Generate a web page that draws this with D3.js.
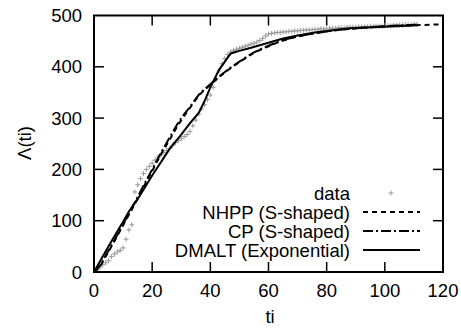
<!DOCTYPE html>
<html><head><meta charset="utf-8">
<script src="https://cdn.jsdelivr.net/npm/d3@7"></script>
<style>body{margin:0;background:#fff}svg{display:block}text{font-family:"Liberation Sans",Arial,Helvetica,sans-serif;font-size:18.5px;fill:#000}</style>
</head><body>
<script>
const xTicks = [0,20,40,60,80,100,120];
const yTicks = [0,100,200,300,400,500];
// observed data, t = 1..111
const dataValues = [4,9,14,18,22,30,35,39,42,47,64,82,92,156,170,182,192,200,206,212,218,224,228,233,237,241,247,252,256,260,264,268,274,285,296,308,318,326,336,345,360,376,392,406,416,424,429,432,434,436,438,440,442,444,446,448,451,455,460,464,465,466,467,467,468,468,469,469,470,470,471,471,472,472,472,473,473,474,474,474,475,475,475,476,476,476,477,477,477,477,478,478,478,478,479,479,479,479,479,480,480,480,481,481,481,481,482,482,482,483,483];
const nhppT = [0,2,4,7,10,13.5,17,20,23,26,30,33,36,40,45,50,55,60,65,70,80,90,100,111,120];
const nhppV = [0,11,30,60,91,127,165,197,229,258,296,320,343,365,389,409,427,440,451,459,469,475,479,481,483];
const cpT = [0,2,4,7,10,13.5,17,20,23,26,30,33,36,40,45,50,55,60,65,70,80,90,100,111];
const cpV = [0,12,32,62,93,130,168,200,232,262,300,322,345,366,390,410,428,441,452,459,469,475,479,482];
const dmaltT = [0,3,6,10,12,15,20,26,30,33,36,38,40,43,47,50,54,60,65,70,77,88,100,111];
const dmaltV = [0,30,60,98,118,142,188,240,268,290,310,333,360,394,426,431,437,447,455,461,468,475,478,481];
const legendLabels = ["data","NHPP (S-shaped)","CP (S-shaped)","DMALT (Exponential)"];

const W=461,H=329, L=94, R=443, T=15.5, B=272;
const svg=d3.select("body").append("svg").attr("width",W).attr("height",H);
const x=d3.scaleLinear().domain([0,120]).range([L,R]);
const y=d3.scaleLinear().domain([0,500]).range([B,T]);

// ticks (mirrored, inward)
const tl=10;
const g=svg.append("g").attr("stroke","#000").attr("stroke-width",1.5);
xTicks.slice(1,-1).forEach(v=>{
  g.append("line").attr("x1",x(v)).attr("x2",x(v)).attr("y1",B).attr("y2",B-tl);
  g.append("line").attr("x1",x(v)).attr("x2",x(v)).attr("y1",T).attr("y2",T+tl);
});
yTicks.slice(1,-1).forEach(v=>{
  g.append("line").attr("x1",L).attr("x2",L+tl).attr("y1",y(v)).attr("y2",y(v));
  g.append("line").attr("x1",R).attr("x2",R-tl).attr("y1",y(v)).attr("y2",y(v));
});
xTicks.forEach(v=>svg.append("text").attr("x",x(v)).attr("y",297).attr("text-anchor","middle").text(v));
yTicks.forEach(v=>svg.append("text").attr("x",82).attr("y",y(v)+6.5).attr("text-anchor","end").text(v));
svg.append("text").attr("x",270).attr("y",323).attr("text-anchor","middle").text("ti");
svg.append("text").attr("transform","translate(31,143) rotate(-90)").attr("text-anchor","middle").text("Λ(ti)");

// data points
const pts=svg.append("g").attr("stroke","#999").attr("stroke-width",1);
const ps=2.5;
dataValues.forEach((v,i)=>{
  const px=x(i+1), py=y(v);
  pts.append("path").attr("d",`M${px-ps},${py}H${px+ps}M${px},${py-ps}V${py+ps}`);
});

function drawLine(ts,vs,dash){
  const line=d3.line().x(d=>x(d[0])).y(d=>y(d[1])).curve(d3.curveMonotoneX);
  svg.append("path").datum(ts.map((t,i)=>[t,vs[i]])).attr("d",line)
    .attr("fill","none").attr("stroke","#000").attr("stroke-width",2).attr("stroke-dasharray",dash);
}
function drawLin(ts,vs){
  const line=d3.line().x(d=>x(d[0])).y(d=>y(d[1]));
  svg.append("path").datum(ts.map((t,i)=>[t,vs[i]])).attr("d",line)
    .attr("fill","none").attr("stroke","#000").attr("stroke-width",2);
}
drawLine(nhppT,nhppV,"5,4");
drawLine(cpT,cpV,"10,3,2,3");
drawLin(dmaltT,dmaltV);

// legend
const ly=[193,212,231,250];
legendLabels.forEach((s,i)=>svg.append("text").attr("x",350).attr("y",ly[i]+6.5).attr("text-anchor","end").text(s));
svg.append("path").attr("d",`M${391-ps},${ly[0]}H${391+ps}M391,${ly[0]-ps}V${ly[0]+ps}`).attr("stroke","#999");
[["5,4"],["10,3,2,3"],[null]].forEach((d,i)=>{
  svg.append("line").attr("x1",363).attr("x2",420).attr("y1",ly[i+1]).attr("y2",ly[i+1])
   .attr("stroke","#000").attr("stroke-width",2).attr("stroke-dasharray",d[0]);
});

svg.append("rect").attr("x",L).attr("y",T).attr("width",R-L).attr("height",B-T)
  .attr("fill","none").attr("stroke","#000").attr("stroke-width",2);
</script>
</body></html>
